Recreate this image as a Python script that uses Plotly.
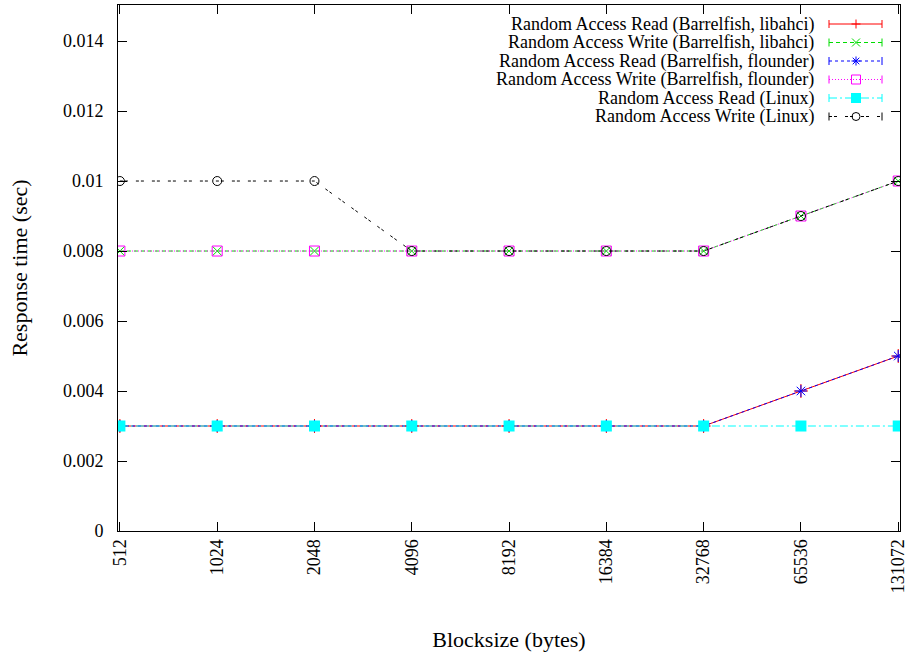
import plotly.graph_objects as go

blocksizes = [512, 1024, 2048, 4096, 8192, 16384, 32768, 65536, 131072]
tick_labels = [str(b) for b in blocksizes]

read_libahci = [0.003, 0.003, 0.003, 0.003, 0.003, 0.003, 0.003, 0.004, 0.005]
write_libahci = [0.008, 0.008, 0.008, 0.008, 0.008, 0.008, 0.008, 0.009, 0.010]
read_flounder = [0.003, 0.003, 0.003, 0.003, 0.003, 0.003, 0.003, 0.004, 0.005]
write_flounder = [0.008, 0.008, 0.008, 0.008, 0.008, 0.008, 0.008, 0.009, 0.010]
read_linux = [0.003, 0.003, 0.003, 0.003, 0.003, 0.003, 0.003, 0.003, 0.003]
write_linux = [0.010, 0.010, 0.010, 0.008, 0.008, 0.008, 0.008, 0.009, 0.010]

series_names = [
    "Random Access Read (Barrelfish, libahci)",
    "Random Access Write (Barrelfish, libahci)",
    "Random Access Read (Barrelfish, flounder)",
    "Random Access Write (Barrelfish, flounder)",
    "Random Access Read (Linux)",
    "Random Access Write (Linux)",
]
series_values = [read_libahci, write_libahci, read_flounder,
                 write_flounder, read_linux, write_linux]

# styles: colour, dash, plotly symbol, size, marker line width, legend glyph
styles = [
    ("#ff0000", "solid", "cross-thin", 10, 1, "plus"),
    ("#00dd00", "4px,3px", "x-thin", 9, 1, "x"),
    ("#0000ff", "3px,3px", "asterisk-open", 10, 1, "star"),
    ("#ff00ff", "1px,2px", "square-open", 10, 1, "sqopen"),
    ("#00ffff", "8px,3px,2px,3px", "square", 11, 0, "sqfill"),
    ("#000000", "3px,2px,3px,8px", "circle-open", 9, 1, "circle"),
]

FONT = "Liberation Serif, Times New Roman, Times, serif"
W, H = 910, 652
ML, MR, MT, MB = 118, 10, 5, 121
PW, PH = W - ML - MR, H - MT - MB


def px(xp):
    return (xp - ML) / PW


def py(yp):
    return (H - MB - yp) / PH


fig = go.Figure()
for name, vals, (color, dash, symbol, size, lw, _g) in zip(series_names, series_values, styles):
    fig.add_trace(go.Scatter(
        x=blocksizes, y=vals, name=name, mode="lines+markers", showlegend=False,
        line=dict(color=color, width=1, dash=dash),
        marker=dict(symbol=symbol, size=size, color=color,
                    line=dict(color=color, width=lw)),
    ))

# gnuplot-style key: right-aligned text, sample line to the right
shapes = []
annotations = []
KEY_TEXT_RIGHT = 816
KEY_X0, KEY_X1, KEY_XM = 829, 882, 856
KEY_Y0, KEY_DY = 24, 18.5
for i, (name, (color, dash, symbol, size, lw, glyph)) in enumerate(zip(series_names, styles)):
    yc = KEY_Y0 + i * KEY_DY
    annotations.append(dict(
        x=px(KEY_TEXT_RIGHT), y=py(yc), xref="paper", yref="paper",
        xanchor="right", yanchor="middle", text=name, showarrow=False,
        font=dict(family=FONT, size=18, color="black"),
    ))
    line = dict(color=color, width=1, dash=dash)
    shapes.append(dict(type="line", xref="paper", yref="paper",
                       x0=px(KEY_X0), x1=px(KEY_X1), y0=py(yc), y1=py(yc), line=line))
    for xe in (KEY_X0, KEY_X1):
        shapes.append(dict(type="line", xref="paper", yref="paper",
                           x0=px(xe), x1=px(xe), y0=py(yc - 4), y1=py(yc + 4),
                           line=dict(color=color, width=1)))
    s = 4.5
    seg = dict(color=color, width=1)
    if glyph in ("plus", "star"):
        shapes.append(dict(type="line", xref="paper", yref="paper",
                           x0=px(KEY_XM - s), x1=px(KEY_XM + s), y0=py(yc), y1=py(yc), line=seg))
        shapes.append(dict(type="line", xref="paper", yref="paper",
                           x0=px(KEY_XM), x1=px(KEY_XM), y0=py(yc - s), y1=py(yc + s), line=seg))
    if glyph in ("x", "star"):
        d = 4 if glyph == "x" else 3.3
        shapes.append(dict(type="line", xref="paper", yref="paper",
                           x0=px(KEY_XM - d), x1=px(KEY_XM + d), y0=py(yc - d), y1=py(yc + d), line=seg))
        shapes.append(dict(type="line", xref="paper", yref="paper",
                           x0=px(KEY_XM - d), x1=px(KEY_XM + d), y0=py(yc + d), y1=py(yc - d), line=seg))
    if glyph == "sqopen":
        shapes.append(dict(type="rect", xref="paper", yref="paper",
                           x0=px(KEY_XM - s), x1=px(KEY_XM + s), y0=py(yc - s), y1=py(yc + s),
                           line=seg, fillcolor="rgba(0,0,0,0)"))
    if glyph == "sqfill":
        shapes.append(dict(type="rect", xref="paper", yref="paper",
                           x0=px(KEY_XM - 5), x1=px(KEY_XM + 5), y0=py(yc - 5), y1=py(yc + 5),
                           line=dict(width=0), fillcolor=color))
    if glyph == "circle":
        shapes.append(dict(type="circle", xref="paper", yref="paper",
                           x0=px(KEY_XM - 4), x1=px(KEY_XM + 4), y0=py(yc - 4), y1=py(yc + 4),
                           line=seg, fillcolor="rgba(0,0,0,0)"))

fig.update_layout(
    width=W, height=H,
    margin=dict(l=ML, r=MR, t=MT, b=MB),
    paper_bgcolor="white", plot_bgcolor="white",
    font=dict(family=FONT, size=18, color="black"),
    showlegend=False,
    shapes=shapes,
    annotations=annotations,
    xaxis=dict(
        type="log",
        range=[2.7034, 5.1230],
        tickvals=blocksizes, ticktext=tick_labels,
        tickangle=-90,
        ticklabeloverflow="allow",
        ticks="inside", ticklen=9, tickcolor="black",
        showline=True, linecolor="black", linewidth=1, mirror="ticks",
        showgrid=False, zeroline=False,
        title=dict(text="Blocksize (bytes)", standoff=42),
        automargin=False,
    ),
    yaxis=dict(
        range=[0, 0.01503],
        tickvals=[0, 0.002, 0.004, 0.006, 0.008, 0.010, 0.012, 0.014],
        ticktext=["0", "0.002", "0.004", "0.006", "0.008", "0.01", "0.012", "0.014"],
        ticks="inside", ticklen=9, tickcolor="black",
        showline=True, linecolor="black", linewidth=1, mirror="ticks",
        showgrid=False, zeroline=False,
        ticklabelstandoff=10,
        title=dict(text="Response time (sec)", standoff=29),
        automargin=False,
    ),
)

fig.write_html(
    "out.html",
    config={"displayModeBar": False},
    post_script="document.body.style.margin='0';document.body.style.overflow='hidden';",
)
